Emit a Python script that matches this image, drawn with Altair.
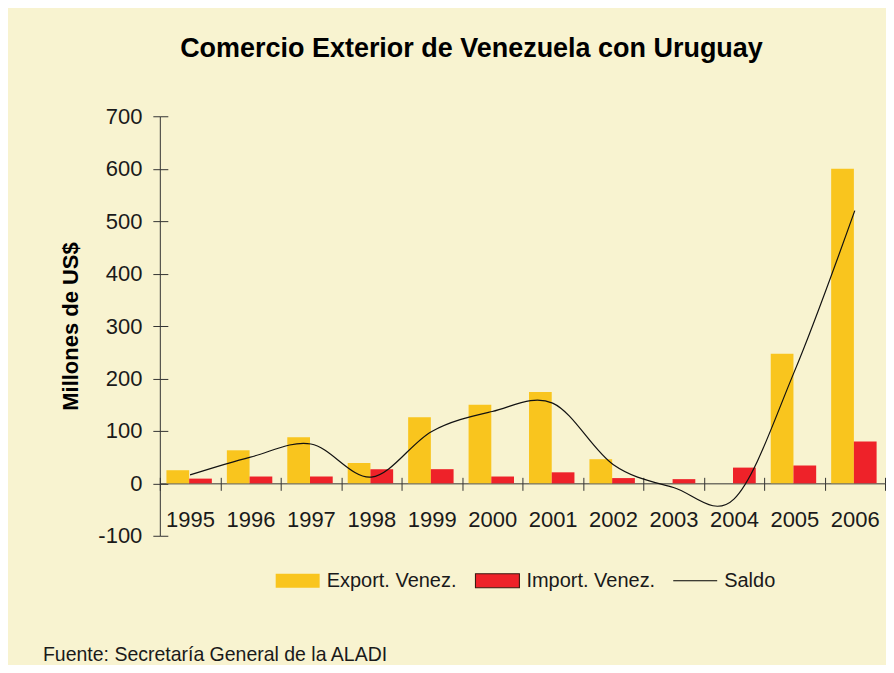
import altair as alt
import pandas as pd

years = ["1995", "1996", "1997", "1998", "1999", "2000",
         "2001", "2002", "2003", "2004", "2005", "2006"]
export_venez = [25, 63, 88, 39, 126, 150, 174, 46, 0, 0, 247, 600]
import_venez = [9, 13, 13, 27, 27, 13, 21, 10, 8, 30, 34, 80]
saldo = [16, 50, 75, 12, 99, 137, 153, 36, -8, -30, 213, 520]

series_names = ["Export. Venez.", "Import. Venez.", "Saldo"]
series_colors = ["#F9C51E", "#EE2229", "#000000"]
y_ticks = [-100, 0, 100, 200, 300, 400, 500, 600, 700]

title_text = "Comercio Exterior de Venezuela con Uruguay"
y_title = "Millones de US$"
footer_text = "Fuente: Secretaría General de la ALADI"

FONT = "Liberation Sans"
INK = "#1a1a1a"
BG = "#F8F3D0"

bars_df = pd.DataFrame({
    "year": years * 2,
    "serie": [series_names[0]] * len(years) + [series_names[1]] * len(years),
    "valor": export_venez + import_venez,
})
line_df = pd.DataFrame({"year": years, "saldo": saldo})
footer_df = pd.DataFrame({"t": [footer_text]})

y_scale = alt.Scale(domain=[-100, 700], nice=False, zero=False)
x_scale = alt.Scale(domain=years, paddingInner=0, paddingOuter=0)

legend = alt.Legend(
    orient="none", legendX=115, legendY=442, direction="horizontal",
    title=None, padding=0,
    symbolSize=1936,
    symbolType=alt.ExprRef(
        "datum.value === 'Saldo' ? 'M-1,0H1' : 'M-1,-0.32H1V0.32H-1Z'"),
    symbolStrokeColor=alt.ExprRef(
        "datum.value === 'Saldo' ? '#000000' : "
        "(datum.value === 'Import. Venez.' ? '#3b1a12' : 'transparent')"),
    symbolStrokeWidth=1.1,
    labelFont=FONT, labelFontSize=20, labelColor=INK, labelOffset=6,
    labelLimit=300, columnPadding=15,
)

bars = alt.Chart(bars_df).mark_bar().encode(
    x=alt.X("year:N", scale=x_scale, sort=years,
            axis=alt.Axis(orient="bottom", offset=-52.5, tickBand="extent",
                          tickSize=7, tickColor="#333", domainColor="#333",
                          labelPadding=19, labelFont=FONT, labelFontSize=22,
                          labelColor=INK, labelAngle=0, title=None, grid=False)),
    xOffset=alt.XOffset("serie:N", sort=series_names[:2],
                        scale=alt.Scale(domain=series_names[:2], paddingInner=0,
                                        paddingOuter=0.33, align=0.44)),
    y=alt.Y("valor:Q", scale=y_scale,
            axis=alt.Axis(values=y_ticks, tickSize=7, tickColor="#333",
                          domainColor="#333", labelPadding=11, labelFont=FONT,
                          labelFontSize=22, labelColor=INK, grid=False,
                          labelExpr="'' + datum.value",
                          title=y_title, titleFont=FONT, titleFontSize=22,
                          titleFontWeight="bold", titleColor="#000",
                          titlePadding=15)),
    color=alt.Color("serie:N",
                    scale=alt.Scale(domain=series_names, range=series_colors),
                    legend=legend),
)

line = alt.Chart(line_df).mark_line(
    interpolate="cardinal", color="#111111", strokeWidth=1.2
).encode(
    x=alt.X("year:N", scale=x_scale, sort=years,
            axis=alt.Axis(orient="bottom", offset=-58.5, tickBand="extent",
                          tickSize=6, tickColor="#333", labels=False,
                          domain=False, title=None, grid=False)),
    y=alt.Y("saldo:Q", scale=y_scale,
            axis=alt.Axis(orient="left", offset=-8, values=y_ticks, tickSize=8,
                          tickColor="#333", labels=False, domain=False,
                          title=None, grid=False)),
)

footer = alt.Chart(footer_df).mark_text(
    align="left", baseline="alphabetic", font=FONT, fontSize=19.5, color=INK
).encode(
    x=alt.value(-117), y=alt.value(545), text="t:N"
)

chart = alt.layer(bars, line, footer).resolve_axis(
    x="independent", y="independent"
).properties(
    width=726, height=420,
    title=alt.TitleParams(title_text, font=FONT, fontSize=27, fontWeight="bold",
                          color="#000", anchor="middle", frame="group", dx=-51,
                          offset=42),
    padding={"left": 35, "top": 27, "right": 0, "bottom": 0},
    background=BG,
).configure_view(stroke=None)

chart.save("out.html", embed_options={"renderer": "svg", "actions": False})
